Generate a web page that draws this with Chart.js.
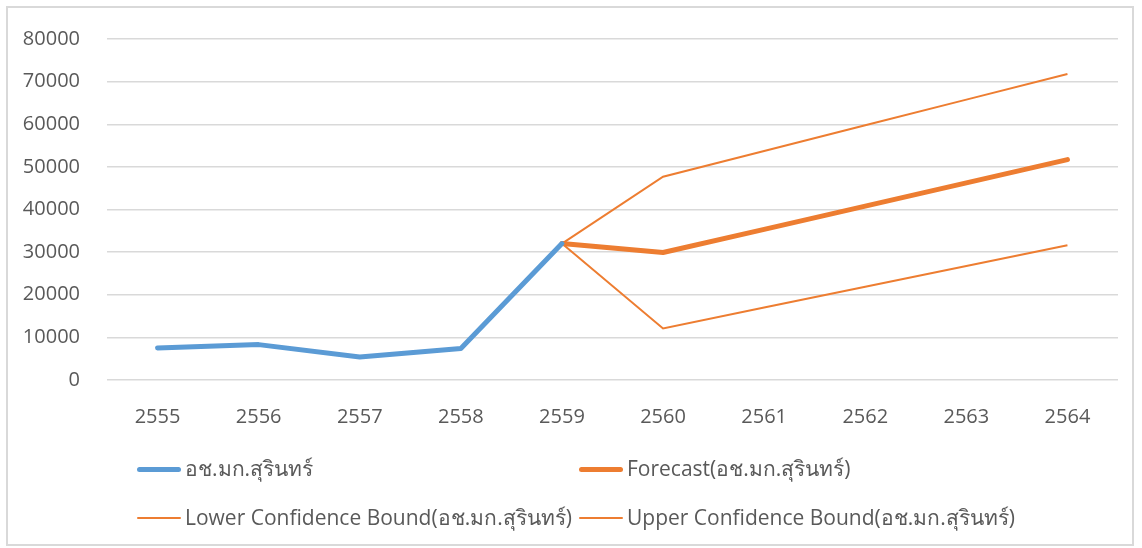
<!DOCTYPE html>
<html>
<head>
<meta charset="utf-8">
<script src="https://cdn.jsdelivr.net/npm/chart.js@4/dist/chart.umd.min.js"></script>
<style>
  html, body { margin: 0; padding: 0; background: #ffffff; }
  #wrap { position: relative; width: 1142px; height: 548px; overflow: hidden; }
  #frame { position: absolute; left: 6px; top: 6px; width: 1128px; height: 540px; border: 2px solid #d9d9d9; box-sizing: border-box; }
  canvas { position: absolute; left: 0; top: 0; }
  .lg { position: absolute; font-family: "Open Sans", "Noto Sans", sans-serif; font-size: 21px; color: #595959; white-space: nowrap; line-height: 26px; }
  .sw { position: absolute; border-radius: 3px; }
</style>
</head>
<body>
<div id="wrap">
  <div id="frame"></div>
  <canvas id="c" width="1142" height="548"></canvas>
  <div id="legend"></div>
</div>
<script>
const categories = ["2555","2556","2557","2558","2559","2560","2561","2562","2563","2564"];
const actualValues = [7500, 8300, 5400, 7400, 32000, null, null, null, null, null];
const forecastValues = [null, null, null, null, 32000, 29900, 35350, 40800, 46250, 51700];
const lowerValues = [null, null, null, null, 32000, 12100, 17000, 21900, 26750, 31600];
const upperValues = [null, null, null, null, 32000, 47700, 53725, 59750, 65775, 71800];
const seriesNames = ["อช.มก.สุรินทร์", "Forecast(อช.มก.สุรินทร์)", "Lower Confidence Bound(อช.มก.สุรินทร์)", "Upper Confidence Bound(อช.มก.สุรินทร์)"];

const BLUE = "#5B9BD5", ORANGE = "#ED7D31";
const FONT = "'Open Sans', 'Noto Sans', sans-serif";

new Chart(document.getElementById("c"), {
  type: "line",
  data: {
    labels: categories,
    datasets: [
      { label: seriesNames[0], data: actualValues, borderColor: BLUE, backgroundColor: BLUE, borderWidth: 5, pointRadius: 0, tension: 0, borderCapStyle: "round", borderJoinStyle: "round" },
      { label: seriesNames[1], data: forecastValues, borderColor: ORANGE, backgroundColor: ORANGE, borderWidth: 5, pointRadius: 0, tension: 0, borderCapStyle: "round", borderJoinStyle: "round" },
      { label: seriesNames[2], data: lowerValues, borderColor: ORANGE, backgroundColor: ORANGE, borderWidth: 2, pointRadius: 0, tension: 0 },
      { label: seriesNames[3], data: upperValues, borderColor: ORANGE, backgroundColor: ORANGE, borderWidth: 2, pointRadius: 0, tension: 0 }
    ]
  },
  options: {
    responsive: false,
    animation: false,
    layout: { padding: { left: 0, right: 24, top: 34, bottom: 0 } },
    plugins: { legend: { display: false }, tooltip: { enabled: false } },
    scales: {
      x: {
        offset: true,
        grid: { display: false, drawTicks: false },
        border: { display: false },
        ticks: { color: "#595959", font: { family: FONT, size: 20 }, padding: 25, maxRotation: 0 },
        afterFit: (s) => { s.height = 168; }
      },
      y: {
        min: 0, max: 80000,
        grid: { color: "#d9d9d9", lineWidth: 1.5, drawTicks: false },
        border: { display: false },
        ticks: { stepSize: 10000, color: "#595959", font: { family: FONT, size: 20 }, padding: 27, callback: (v) => String(v) },
        afterFit: (s) => { s.width = 107; }
      }
    }
  }
});

const legendItems = [
  { name: seriesNames[0], color: BLUE, w: 5, x: 137, y: 469 },
  { name: seriesNames[1], color: ORANGE, w: 5, x: 579, y: 469 },
  { name: seriesNames[2], color: ORANGE, w: 2, x: 137, y: 518 },
  { name: seriesNames[3], color: ORANGE, w: 2, x: 579, y: 518 }
];
const lg = document.getElementById("legend");
legendItems.forEach(it => {
  const sw = document.createElement("div");
  sw.className = "sw";
  sw.style.left = it.x + "px";
  sw.style.width = "44px";
  sw.style.top = (it.y - it.w / 2) + "px";
  sw.style.height = it.w + "px";
  sw.style.background = it.color;
  lg.appendChild(sw);
  const t = document.createElement("div");
  t.className = "lg";
  t.textContent = it.name;
  t.style.left = (it.x + 48) + "px";
  t.style.top = (it.y - 14) + "px";
  lg.appendChild(t);
});
</script>
</body>
</html>
